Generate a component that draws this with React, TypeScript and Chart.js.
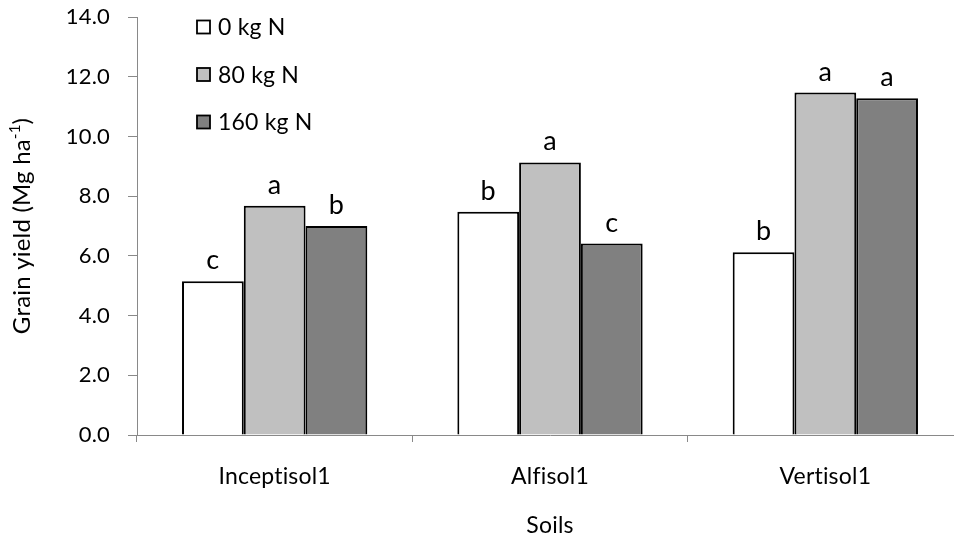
import React, { useEffect, useRef } from "react";
import { Chart, registerables } from "chart.js";

Chart.register(...registerables);

const categories = ["Inceptisol1", "Alfisol1", "Vertisol1"];
const seriesLabels = ["0 kg N", "80 kg N", "160 kg N"];
const yield0 = [5.15, 7.48, 6.12];
const yield80 = [7.68, 9.13, 11.47];
const yield160 = [7.0, 6.41, 11.28];
const letters0 = ["c", "b", "b"];
const letters80 = ["a", "a", "a"];
const letters160 = ["b", "c", "a"];
const seriesColors = ["#FFFFFF", "#C0C0C0", "#808080"];
const yMin = 0;
const yMax = 14;
const yStep = 2;
const xTitle = "Soils";
const yTitleMain = "Grain yield (Mg ha";
const yTitleSup = "-1";
const yTitleEnd = ")";

const LABEL_FONT = "Lato, 'Open Sans', sans-serif";
const AXIS_GRAY = "#898989";

const spacingPlugin = {
  id: "spacing",
  beforeDraw(chart: any) {
    // a tiny letter spacing keeps "fi" from being drawn as a ligature
    try {
      chart.ctx.letterSpacing = "0.2px";
    } catch (e) {}
  },
};

const extrasPlugin = {
  id: "extras",
  afterDatasetsDraw(chart: any) {
    const ctx = chart.ctx;
    const area = chart.chartArea;
    const letterSets = [letters0, letters80, letters160];
    ctx.save();
    // significance letters
    ctx.fillStyle = "#000";
    ctx.font = `27px ${LABEL_FONT}`;
    ctx.textAlign = "center";
    ctx.textBaseline = "alphabetic";
    chart.data.datasets.forEach((ds: any, di: number) => {
      const meta = chart.getDatasetMeta(di);
      meta.data.forEach((bar: any, i: number) => {
        ctx.fillText(letterSets[di][i], bar.x, bar.y - 12);
      });
    });
    // legend
    ctx.font = `23px ${LABEL_FONT}`;
    ctx.textAlign = "left";
    ctx.textBaseline = "middle";
    chart.data.datasets.forEach((ds: any, di: number) => {
      const cy = area.top + 10 + di * 47.5;
      const bx = area.left + 60;
      ctx.fillStyle = ds.backgroundColor;
      ctx.fillRect(bx, cy - 6.5, 13, 13);
      ctx.strokeStyle = "#000";
      ctx.lineWidth = 1.8;
      ctx.strokeRect(bx, cy - 6.5, 13, 13);
      ctx.fillStyle = "#000";
      ctx.fillText(ds.label, bx + 21, cy + 1);
    });
    // x title
    ctx.font = `23px ${LABEL_FONT}`;
    ctx.textAlign = "center";
    ctx.textBaseline = "middle";
    ctx.fillText(xTitle, (area.left + area.right) / 2, area.bottom + 91);
    // y title with superscript
    const mainFont = `24px ${LABEL_FONT}`;
    const supFont = `15px ${LABEL_FONT}`;
    ctx.font = mainFont;
    const w1 = ctx.measureText(yTitleMain).width;
    const w3 = ctx.measureText(yTitleEnd).width;
    ctx.font = supFont;
    const w2 = ctx.measureText(yTitleSup).width;
    const total = w1 + w2 + w3;
    ctx.translate(30, (area.top + area.bottom) / 2);
    ctx.rotate(-Math.PI / 2);
    ctx.textAlign = "left";
    ctx.textBaseline = "alphabetic";
    let x = -total / 2;
    ctx.font = mainFont;
    ctx.fillText(yTitleMain, x, 0);
    x += w1;
    ctx.font = supFont;
    ctx.fillText(yTitleSup, x, -10);
    x += w2;
    ctx.font = mainFont;
    ctx.fillText(yTitleEnd, x, 0);
    ctx.restore();
  },
};

export default function App() {
  const canvasRef = useRef<HTMLCanvasElement | null>(null);

  useEffect(() => {
    document.body.style.margin = "0";
    document.body.style.overflow = "hidden";
    const canvas = canvasRef.current;
    if (!canvas) return;
    const values = [yield0, yield80, yield160];
    const chart = new Chart(canvas, {
      type: "bar",
      data: {
        labels: categories,
        datasets: seriesLabels.map((label, i) => ({
          label,
          data: values[i],
          backgroundColor: seriesColors[i],
          borderColor: "#000000",
          borderWidth: 2,
          barPercentage: 1.0,
          categoryPercentage: 0.673,
        })),
      },
      options: {
        responsive: false,
        animation: false,
        layout: { padding: { left: 0, right: 17, top: 17, bottom: 0 } },
        plugins: {
          legend: { display: false },
          tooltip: { enabled: false },
          title: { display: false },
        },
        scales: {
          x: {
            offset: true,
            grid: {
              offset: true,
              drawOnChartArea: false,
              drawTicks: true,
              tickLength: 7,
              color: AXIS_GRAY,
            },
            border: { display: true, color: AXIS_GRAY, width: 1 },
            ticks: {
              color: "#000",
              font: { family: LABEL_FONT, size: 23 },
              padding: 21,
              maxRotation: 0,
            },
            afterFit: (scale: any) => {
              scale.height = 103;
              scale.paddingLeft = 0;
              scale.paddingRight = 0;
            },
          },
          y: {
            min: yMin,
            max: yMax,
            grid: {
              drawOnChartArea: false,
              drawTicks: true,
              tickLength: 9,
              color: AXIS_GRAY,
            },
            border: { display: true, color: AXIS_GRAY, width: 1 },
            ticks: {
              stepSize: yStep,
              color: "#000",
              font: { family: LABEL_FONT, size: 22 },
              padding: 18,
              callback: (v: any) => Number(v).toFixed(1),
            },
            afterFit: (scale: any) => {
              scale.width = 137;
              scale.paddingTop = 0;
              scale.paddingBottom = 0;
            },
          },
        },
      },
      plugins: [spacingPlugin, extrasPlugin],
    });
    return () => chart.destroy();
  }, []);

  return (
    <div style={{ position: "fixed", left: 0, top: 0, width: 954, height: 538, overflow: "hidden", background: "#fff" }}>
      <canvas ref={canvasRef} width={980} height={538} style={{ width: 980, height: 538, display: "block" }} />
    </div>
  );
}
